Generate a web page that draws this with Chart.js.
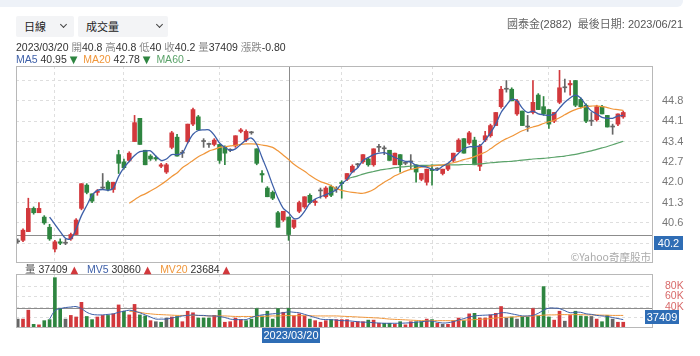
<!DOCTYPE html>
<html><head><meta charset="utf-8">
<script src="https://cdn.jsdelivr.net/npm/chart.js@4/dist/chart.umd.min.js"></script>
<style>
html,body{margin:0;padding:0;background:#fff;width:700px;height:356px;overflow:hidden;font-family:"Liberation Sans",Arial,"Noto Sans CJK TC",sans-serif;}
canvas{position:absolute;left:0;top:0;}
.abs{position:absolute;white-space:nowrap;}
#band{left:0;top:0;width:683px;height:7px;background:#eef2f8;border-bottom-right-radius:6px;}
.sel{top:16px;height:21px;background:#f3f4f6;border-radius:2px;font-size:11px;line-height:21px;color:#222;font-family:"Noto Sans CJK TC",sans-serif;}
.sel span{position:absolute;top:0;}
.sel i{position:absolute;top:6px;width:4px;height:4px;border-right:1.2px solid #444;border-bottom:1.2px solid #444;transform:rotate(45deg);}
.t{font-size:10.5px;line-height:12px;color:#333;z-index:5;}
.k{color:#8a8a8a;font-family:"Noto Sans CJK TC",sans-serif;}
.dn{color:#2e8540;font-size:10px;font-family:"DejaVu Sans",sans-serif;}
.up{color:#d2383c;font-size:10px;font-family:"DejaVu Sans",sans-serif;}
</style></head>
<body>
<div id="band" class="abs"></div>
<div class="abs sel" style="left:16px;width:58px"><span style="left:8px">日線</span><i style="left:45px"></i></div>
<div class="abs sel" style="left:78px;width:90px"><span style="left:8px">成交量</span><i style="left:79px"></i></div>
<div class="abs t" style="right:17px;top:17px;font-size:11px;color:#555"><span class="k" style="color:#666">國泰金</span>(2882)&nbsp;&nbsp;<span class="k" style="color:#666">最後日期</span>: 2023/06/21</div>
<div id="info1" class="abs t" style="left:16px;top:41px"></div>
<div id="info2" class="abs t" style="left:16px;top:53px"></div>
<div id="info3" class="abs t" style="left:25px;top:263px"></div>
<div class="abs t" style="right:49px;top:251px;color:#aaa;font-size:10.5px;font-family:'Noto Sans CJK TC',sans-serif">©Yahoo奇摩股市</div>
<canvas id="pc" width="700" height="356"></canvas>
<canvas id="vc" width="700" height="356"></canvas>
<script>
const dates = ["2022/12/21","2022/12/22","2022/12/23","2022/12/26","2022/12/27","2022/12/28","2022/12/29","2022/12/30",
"2023/01/03","2023/01/04","2023/01/05","2023/01/06","2023/01/09","2023/01/10","2023/01/11","2023/01/12","2023/01/13","2023/01/16","2023/01/17","2023/01/30","2023/01/31",
"2023/02/01","2023/02/02","2023/02/03","2023/02/06","2023/02/07","2023/02/08","2023/02/09","2023/02/10","2023/02/13","2023/02/14","2023/02/15","2023/02/16","2023/02/17","2023/02/20","2023/02/21","2023/02/22","2023/02/23","2023/02/24",
"2023/03/01","2023/03/02","2023/03/03","2023/03/06","2023/03/07","2023/03/08","2023/03/09","2023/03/10","2023/03/13","2023/03/14","2023/03/15","2023/03/16","2023/03/17","2023/03/20","2023/03/21","2023/03/22","2023/03/23","2023/03/24","2023/03/27","2023/03/28","2023/03/29","2023/03/30","2023/03/31",
"2023/04/06","2023/04/07","2023/04/10","2023/04/11","2023/04/12","2023/04/13","2023/04/14","2023/04/17","2023/04/18","2023/04/19","2023/04/20","2023/04/21","2023/04/24","2023/04/25","2023/04/26","2023/04/27","2023/04/28",
"2023/05/02","2023/05/03","2023/05/04","2023/05/05","2023/05/08","2023/05/09","2023/05/10","2023/05/11","2023/05/12","2023/05/15","2023/05/16","2023/05/17","2023/05/18","2023/05/19","2023/05/22","2023/05/23","2023/05/24","2023/05/25","2023/05/26","2023/05/29","2023/05/30","2023/05/31",
"2023/06/01","2023/06/02","2023/06/05","2023/06/06","2023/06/07","2023/06/08","2023/06/09","2023/06/12","2023/06/13","2023/06/14","2023/06/15","2023/06/16","2023/06/19","2023/06/20","2023/06/21"];

const opens = [40.0,39.95,40.0,40.3,41.1,40.95,40.8,40.45,39.7,39.95,
39.9,40.05,40.2,41.1,41.9,41.6,41.65,41.8,42.0,41.75,
42.95,42.7,42.75,43.4,44.2,43.1,42.9,42.85,42.55,42.35,
43.2,43.55,43.0,43.4,44.0,44.25,43.4,43.3,43.3,43.3,
43.2,43.1,43.25,43.75,43.45,43.7,43.15,42.3,41.8,41.65,
40.95,40.7,40.8,40.45,41.0,41.15,41.55,41.3,41.7,41.5,
41.85,41.75,42.0,42.1,42.35,42.6,42.7,42.8,42.6,43.2,
43.15,43.1,42.6,42.95,42.65,42.7,42.6,42.1,42.0,42.45,
42.45,42.3,42.45,42.75,43.05,43.5,43.35,43.45,42.55,43.45,
43.6,43.95,44.6,45.2,45.2,44.35,44.45,43.9,44.4,45.0,
44.6,44.5,44.1,44.75,45.25,45.35,45.5,44.85,44.65,44.1,
44.15,44.6,44.3,43.9,44.0,44.25];
const highs = [40.1,40.05,40.4,41.45,41.15,41.3,40.85,40.55,40.0,40.05,
40.05,40.25,40.75,41.95,41.95,41.6,41.75,42.3,42.05,42.0,
43.1,42.8,43.05,44.3,44.2,43.1,42.95,42.9,42.65,42.65,
43.75,43.65,43.1,44.0,44.55,44.3,43.5,43.35,43.5,43.3,
43.25,43.15,43.6,43.85,43.8,43.75,43.15,42.4,41.85,41.7,
41.0,41.0,40.8,40.7,41.35,41.5,41.6,41.4,41.8,41.85,
41.9,41.85,42.05,42.3,42.6,42.65,42.95,42.85,43.15,43.3,
43.25,43.1,43.0,42.95,42.7,42.95,42.6,42.3,42.45,42.6,
42.5,42.45,42.65,43.0,43.5,43.5,43.75,43.55,43.3,43.75,
44.0,44.4,45.3,45.5,45.25,44.85,44.45,44.3,45.5,45.05,
44.95,44.5,44.4,45.85,45.55,45.5,45.5,44.9,44.7,44.4,
44.65,44.65,44.3,44.0,44.35,44.45];
const lows = [39.9,39.9,39.95,40.3,40.9,40.95,40.55,40.0,39.6,39.85,
39.85,40.0,40.2,41.05,41.6,41.3,41.55,41.75,41.7,41.65,
42.3,42.45,42.7,43.4,43.3,42.6,42.75,42.75,42.5,42.3,
43.15,42.9,42.85,43.35,43.95,43.8,43.2,43.2,43.25,42.65,
42.6,43.05,43.2,43.7,43.4,43.65,42.6,42.0,41.5,41.4,
40.45,40.65,40.0,40.4,40.95,41.1,41.25,41.2,41.45,41.45,
41.5,41.65,41.45,42.05,42.35,42.5,42.65,42.55,42.55,43.05,
42.95,42.75,42.6,42.35,42.6,42.45,42.0,42.05,41.9,41.9,
42.4,42.25,42.4,42.7,43.05,43.0,43.3,42.6,42.4,43.4,
43.55,43.95,44.55,45.1,44.8,44.3,43.95,43.75,44.35,44.5,
44.3,43.85,44.05,44.7,45.1,45.0,44.6,44.55,44.05,43.95,
44.1,44.35,43.9,43.65,43.95,44.2];
const closes = [39.95,39.95,40.35,41.1,40.95,41.1,40.6,40.05,39.95,39.9,
39.9,40.2,40.7,41.95,41.65,41.35,41.7,41.8,41.75,42.0,
42.65,42.5,43.0,44.05,43.3,42.6,42.8,42.8,42.6,42.6,
43.7,42.9,43.0,44.0,44.5,43.8,43.4,43.3,43.45,42.75,
43.0,43.1,43.6,43.8,43.75,43.7,42.65,42.25,41.5,41.45,
40.45,41.0,40.2,40.7,41.3,41.5,41.3,41.35,41.7,41.8,
41.55,41.75,41.95,42.3,42.55,42.6,42.95,42.6,43.15,43.2,
43.15,42.75,43.0,42.6,42.65,42.7,42.35,42.3,42.45,42.4,
42.45,42.45,42.6,43.0,43.45,43.0,43.7,42.6,43.25,43.6,
43.95,44.4,45.2,45.2,44.8,44.8,43.95,43.9,44.75,44.5,
44.35,44.0,44.4,45.25,45.25,45.4,44.65,44.6,44.1,44.1,
44.6,44.35,43.9,43.9,44.35,44.4];
const volumes = [20000,17000,17000,34000,7000,6000,14000,16000,96000,37000,
17000,24000,21000,49000,22000,16000,21000,24000,24000,27000,
44000,32000,25000,45000,25000,23000,14000,12000,11000,19000,
21000,22000,12000,32000,29000,19000,19000,19000,24000,34000,
11000,12000,19000,16000,14000,17000,37000,23000,32000,17000,
37000,30000,37409,23000,27000,23000,17000,14000,11000,14000,
16000,16000,16000,16000,11000,12000,12000,15000,15000,9000,
9000,9000,7000,12000,6000,12000,12000,12000,17000,16000,
9000,7000,7000,14000,19000,14000,27000,28000,19000,19000,
25000,28000,41000,19000,21000,17000,21000,21000,37000,23000,
79000,21000,15000,32000,13000,24000,32000,23000,22000,22000,
17000,12000,24000,17000,11000,11000];
const ma5 = [null,null,null,null,null,null,null,40.8,40.55,40.3,
40.07,40.05,40.4,40.85,41.2,41.55,41.72,41.75,41.72,41.8,
42.2,42.5,42.72,42.92,43.05,43.07,43.08,42.9,42.75,42.8,
42.95,42.95,43.0,43.35,43.65,43.78,43.8,43.8,43.62,43.35,
43.2,43.1,43.15,43.3,43.45,43.52,43.3,42.85,42.4,41.9,
41.45,41.1,40.95,40.75,40.78,41.0,41.28,41.42,41.5,41.57,
41.65,41.74,41.95,42.1,42.35,42.5,42.75,42.85,42.95,43.0,
43.02,42.95,42.85,42.78,42.72,42.7,42.58,42.55,42.52,42.45,
42.42,42.55,42.65,42.82,43.0,43.15,43.22,43.22,43.25,43.45,
43.7,44.0,44.4,44.65,44.85,44.8,44.55,44.4,44.45,44.35,
44.32,44.3,44.35,44.55,44.75,44.9,45.0,44.9,44.65,44.45,
44.35,44.23,44.2,44.2,44.28,44.3];
const ma20 = [null,null,null,null,null,null,null,null,null,null,
null,null,null,null,null,null,null,null,null,null,
null,null,41.28,41.4,41.52,41.6,41.7,41.8,41.92,42.05,
42.2,42.32,42.5,42.62,42.75,42.88,42.97,43.07,43.13,43.2,
43.22,43.25,43.27,43.3,43.32,43.32,43.31,43.28,43.25,43.2,
43.08,42.93,42.78,42.62,42.49,42.38,42.24,42.12,42.02,41.96,
41.88,41.78,41.72,41.68,41.65,41.63,41.62,41.67,41.75,41.88,
42.0,42.1,42.22,42.3,42.38,42.44,42.48,42.52,42.54,42.56,
42.58,42.6,42.63,42.67,42.72,42.78,42.82,42.88,42.96,43.03,
43.15,43.28,43.4,43.5,43.58,43.68,43.77,43.84,43.9,43.95,
44.02,44.08,44.13,44.22,44.32,44.42,44.5,44.56,44.6,44.62,
44.63,44.6,44.57,44.52,44.5,44.47];
const ma60 = [null,null,null,null,null,null,null,null,null,null,
null,null,null,null,null,null,null,null,null,null,
null,null,null,null,null,null,null,null,null,null,
null,null,null,null,null,null,null,null,null,null,
null,null,null,null,null,null,null,null,null,null,
null,null,null,null,null,null,null,null,null,null,
null,null,null,42.12,42.17,42.22,42.28,42.33,42.37,42.41,
42.44,42.47,42.5,42.52,42.54,42.55,42.57,42.58,42.58,42.59,
42.59,42.59,42.6,42.6,42.6,42.61,42.61,42.62,42.63,42.65,
42.67,42.68,42.7,42.71,42.72,42.74,42.76,42.78,42.8,42.81,
42.82,42.84,42.86,42.88,42.9,42.93,42.96,43.0,43.04,43.08,
43.13,43.18,43.23,43.29,43.35,43.41];
const mv5 = [null,null,null,null,null,null,null,17000,33000,37000,
39000,40000,41000,37000,30000,26000,25000,25000,26000,27000,
30000,32000,34000,32000,29000,25000,21000,17000,17000,17000,
19000,21000,23000,24000,25000,24000,24000,23000,23000,22000,
20000,17000,16000,16000,16000,20000,23000,25000,26000,27000,
28000,29000,30860,30000,29000,26000,23000,20000,17000,16000,
16000,15000,14000,14000,13000,12000,11000,11000,10000,9500,
9000,9000,9000,9000,9500,10000,11000,12000,13000,13000,
11000,9500,10000,12000,15000,18000,21000,23000,24000,24500,
25000,26000,29000,29000,27000,25000,23000,23000,24000,28000,
34000,38000,38000,37000,33000,29000,30000,30000,27000,26000,
24000,23000,22000,20000,18000,16000];
const mv20 = [null,null,null,null,null,null,null,null,null,null,
null,null,null,null,null,null,null,null,null,null,
null,null,32000,31000,30000,28000,27000,26000,25500,25000,
24500,24000,24000,24000,24000,24000,23500,23000,23000,23000,
23000,22500,22000,22000,22000,22000,22000,22000,22500,23000,
23000,23500,23684,23500,23500,23500,23500,23000,23000,23000,
23000,23000,22500,22000,21500,21000,20500,20000,19500,19000,
18000,17000,16500,16000,15500,15000,14500,14000,14000,14000,
14000,14000,14000,14000,14500,15000,15500,16000,16500,17000,
18000,19000,20000,20500,21000,21500,22000,22500,23000,23500,
24500,25000,25000,25500,25500,25500,25500,25500,25000,25000,
25000,24500,24500,24000,24000,24000];
const priceTicks = [39.9,40.6,41.3,42.0,42.7,43.4,44.1,44.8,45.5];
const priceLabelTicks = [40.6,41.3,42.0,42.7,43.4,44.1,44.8];
const volTicks = [20000,40000,60000,80000];
const volLabelTicks = [40000,60000,80000];
const selectedDate = "2023/03/20";

const RED='#d2383c', GREEN='#2e8540', GRAY='#666666';
const BLUE='#3d5fa8', ORANGE='#f0963a', MGREEN='#5ba36a';
const GRID='#dedede', FRAME='#b8b8b8', CROSS='#8c8c8c', BOX='#2f6db5';

const si = dates.indexOf(selectedDate);
const monthStarts = dates.map((d,i)=> (i>0 && d.slice(5,7)!==dates[i-1].slice(5,7)) ? i : -1).filter(i=>i>=0);
const candleColor = opens.map((o,i)=> closes[i]>o ? RED : (closes[i]<o ? GREEN : GRAY));
const volColor = closes.map((c,i)=> i===0 ? GRAY : (c>closes[i-1] ? RED : (c<closes[i-1] ? GREEN : GRAY)));

const chg = (closes[si]-closes[si-1]).toFixed(2);
document.getElementById('info1').innerHTML =
  `${dates[si]} <span class="k">開</span>${opens[si]} <span class="k">高</span>${highs[si]} <span class="k">低</span>${lows[si]} <span class="k">收</span>${closes[si]} <span class="k">量</span>${volumes[si]} <span class="k">漲跌</span>${chg}`;
document.getElementById('info2').innerHTML =
  `<span style="color:${BLUE}">MA5</span> ${ma5[si].toFixed(2)} <span class="dn">▼</span>&nbsp; <span style="color:${ORANGE}">MA20</span> ${ma20[si].toFixed(2)} <span class="dn">▼</span>&nbsp; <span style="color:${MGREEN}">MA60</span> ${ma60[si]==null?'-':ma60[si]}`;
document.getElementById('info3').innerHTML =
  `<span class="k" style="color:#555">量</span> ${volumes[si]} <span class="up">▲</span>&nbsp;&nbsp; <span style="color:${BLUE}">MV5</span> ${mv5[si]} <span class="up">▲</span>&nbsp;&nbsp; <span style="color:${ORANGE}">MV20</span> ${mv20[si]} <span class="up">▲</span>`;

Chart.defaults.font.family = '"Liberation Sans", Arial, sans-serif';
Chart.defaults.font.size = 11;

const XMIN = 0.68, XMAX = 120.6;
const pts = arr => arr.map((v,i)=>({x:i,y:v}));

function drawBox(ctx, x, y, w, h, text){
  ctx.save();
  ctx.fillStyle = BOX; ctx.fillRect(x, y, w, h);
  ctx.fillStyle = '#fff'; ctx.font = '11px "Liberation Sans", Arial, sans-serif';
  ctx.textBaseline = 'middle'; ctx.textAlign = 'center';
  ctx.fillText(text, x + w/2, y + h/2 + 0.5);
  ctx.restore();
}

const pricePlugin = {
  id:'pricePlugin',
  beforeDatasetsDraw(chart){
    const {ctx, chartArea:a, scales:{x,y}} = chart;
    const cx = Math.round(x.getPixelForValue(si)) + 0.5;
    const cy = Math.round(y.getPixelForValue(closes[si])) + 0.5;
    ctx.save(); ctx.strokeStyle = CROSS; ctx.lineWidth = 1;
    ctx.beginPath(); ctx.moveTo(cx, a.top); ctx.lineTo(cx, a.bottom);
    ctx.moveTo(a.left, cy); ctx.lineTo(a.right, cy); ctx.stroke(); ctx.restore();
  },
  afterDraw(chart){
    const {ctx, chartArea:a, scales:{y}} = chart;
    ctx.save(); ctx.strokeStyle = FRAME; ctx.lineWidth = 1;
    ctx.strokeRect(a.left + 0.5, a.top + 0.5, a.right - a.left - 1, a.bottom - a.top - 1);
    ctx.restore();
    const cy = Math.round(y.getPixelForValue(closes[si]));
    drawBox(ctx, a.right + 1, cy + 1, 29, 14, String(closes[si]));
  }
};

const volPlugin = {
  id:'volPlugin',
  beforeDatasetsDraw(chart){
    const {ctx, chartArea:a, scales:{x,y}} = chart;
    const cx = Math.round(x.getPixelForValue(si)) + 0.5;
    const cy = Math.round(y.getPixelForValue(volumes[si])) + 0.5;
    ctx.save(); ctx.strokeStyle = CROSS; ctx.lineWidth = 1;
    ctx.beginPath(); ctx.moveTo(cx, a.top - 12); ctx.lineTo(cx, a.bottom);
    ctx.moveTo(a.left, cy); ctx.lineTo(a.right, cy); ctx.stroke(); ctx.restore();
  },
  afterDraw(chart){
    const {ctx, chartArea:a, scales:{x,y}} = chart;
    ctx.save(); ctx.strokeStyle = FRAME; ctx.lineWidth = 1;
    ctx.strokeRect(a.left + 0.5, a.top + 0.5, a.right - a.left - 1, a.bottom - a.top - 1);
    ctx.restore();
    const cy = Math.round(y.getPixelForValue(volumes[si]));
    drawBox(ctx, a.right - 8, cy + 2, 34, 14, String(volumes[si]));
    const cx = x.getPixelForValue(si);
    drawBox(ctx, Math.round(cx) - 27, a.bottom, 58, 15, dates[si]);
  }
};

const xGrid = {
  type:'linear', min:XMIN, max:XMAX, offset:false,
  afterBuildTicks: s => { s.ticks = monthStarts.map(v=>({value:v})); },
  grid:{color:GRID, drawTicks:false, offset:false, lineWidth:1},
  border:{display:false, dash:[3,3]},
};

new Chart(document.getElementById('pc'), {
  type:'bar',
  data:{datasets:[
    {type:'line', data:pts(ma5), borderColor:BLUE, borderWidth:1.3, pointRadius:0, tension:0.3, order:0},
    {type:'line', data:pts(ma20), borderColor:ORANGE, borderWidth:1.2, pointRadius:0, tension:0.3, order:0},
    {type:'line', data:pts(ma60), borderColor:MGREEN, borderWidth:1.2, pointRadius:0, tension:0.3, order:0},
    {type:'bar', data:opens.map((o,i)=>({x:i,y:[o,closes[i]]})), backgroundColor:candleColor, barThickness:4, minBarLength:1, grouped:false, borderWidth:0, order:1},
    {type:'bar', data:lows.map((l,i)=>({x:i,y:[l,highs[i]]})), backgroundColor:candleColor, barThickness:1, grouped:false, borderWidth:0, order:2},
  ]},
  options:{
    responsive:false, animation:false, events:[],
    layout:{padding:{left:16, top:66, right:0, bottom:93}},
    plugins:{legend:{display:false}, tooltip:{enabled:false}},
    scales:{
      x:Object.assign({}, xGrid, {ticks:{display:false}, afterFit: s => { s.height = 0; }}),
      y:{position:'right', min:39.22, max:46.0,
         afterBuildTicks: s => { s.ticks = priceTicks.map(v=>({value:v})); },
         ticks:{color:'#777', padding:9, font:{size:11},
                callback: v => priceLabelTicks.some(t=>Math.abs(t-v)<1e-6) ? v.toFixed(1) : ''},
         grid:{color:GRID, drawTicks:false},
         border:{display:false, dash:[3,3]},
         afterFit: s => { s.width = 47; }}
    }
  },
  plugins:[pricePlugin]
});

new Chart(document.getElementById('vc'), {
  type:'bar',
  data:{datasets:[
    {type:'line', data:pts(mv5), borderColor:BLUE, borderWidth:1, pointRadius:0, tension:0.3, order:0},
    {type:'line', data:pts(mv20), borderColor:ORANGE, borderWidth:1, pointRadius:0, tension:0.3, order:0},
    {type:'bar', data:pts(volumes), backgroundColor:volColor, barThickness:3, grouped:false, borderWidth:0, order:1},
  ]},
  options:{
    responsive:false, animation:false, events:[],
    layout:{padding:{left:16, top:274, right:0, bottom:28}},
    plugins:{legend:{display:false}, tooltip:{enabled:false}},
    scales:{
      x:Object.assign({}, xGrid, {
        ticks:{display:true, autoSkip:false, maxRotation:0, align:'start', padding:6, color:'#8a8a8a', font:{size:11},
               callback: v => { const d = dates[v]; if(!d) return ''; const m = d.slice(5,7); return m==='01' ? d.slice(0,7) : m; }},
        afterFit: s => { s.height = 0; }}),
      y:{position:'right', min:0, max:103000,
         afterBuildTicks: s => { s.ticks = volTicks.map(v=>({value:v})); },
         ticks:{color:'#d86a6a', padding:12, font:{size:10.5},
                callback: v => volLabelTicks.includes(v) ? (v/1000)+'K' : ''},
         grid:{color:GRID, drawTicks:false},
         border:{display:false, dash:[3,3]},
         afterFit: s => { s.width = 47; }}
    }
  },
  plugins:[volPlugin]
});
</script>
</body></html>
